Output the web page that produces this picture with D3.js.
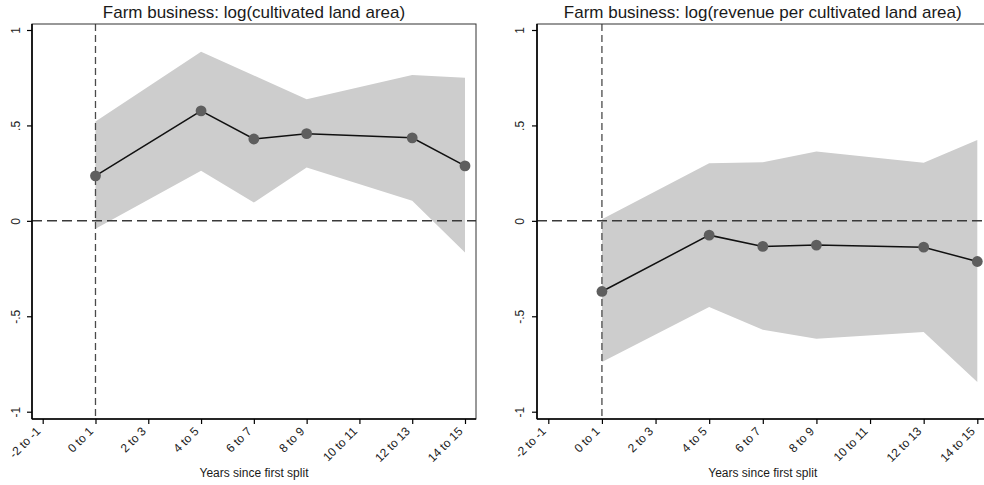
<!DOCTYPE html>
<html>
<head>
<meta charset="utf-8">
<script src="https://cdn.jsdelivr.net/npm/d3@7"></script>
<style>
  html, body { margin: 0; padding: 0; background: #fff; }
  svg { display: block; font-family: "Liberation Sans", Arial, sans-serif; }
</style>
</head>
<body>
<svg id="chart" width="984" height="485"></svg>
<script>
// Event-time bins shown on the horizontal axis
const categories = ["-2 to -1", "0 to 1", "2 to 3", "4 to 5", "6 to 7", "8 to 9", "10 to 11", "12 to 13", "14 to 15"];
const yTicks = [-1, -0.5, 0, 0.5, 1];
const yTickLabels = ["-1", "-.5", "0", ".5", "1"];

// Estimated bins (some bins have no estimate)
const estCats = ["0 to 1", "4 to 5", "6 to 7", "8 to 9", "12 to 13", "14 to 15"];

// log(cultivated land area)
const landEst = [0.236, 0.576, 0.429, 0.457, 0.435, 0.288];
const landLo  = [-0.042, 0.262, 0.096, 0.279, 0.105, -0.166];
const landHi  = [0.52, 0.886, 0.762, 0.637, 0.764, 0.75];

// log(revenue per cultivated land area)
const revEst = [-0.37, -0.075, -0.134, -0.127, -0.138, -0.213];
const revLo  = [-0.74, -0.452, -0.571, -0.618, -0.583, -0.845];
const revHi  = [0.009, 0.302, 0.307, 0.363, 0.305, 0.424];

const panels = [
  { title: "Farm business: log(cultivated land area)", est: landEst, lo: landLo, hi: landHi,
    frame: [32, 476], xr: [42.7, 465], yLabX: 15.5 },
  { title: "Farm business: log(revenue per cultivated land area)", est: revEst, lo: revLo, hi: revHi,
    frame: [537, 988.5], xr: [548.3, 977.3], yLabX: 519.5 }
];

const svg = d3.select("#chart");
const plotTop = 24, plotBottom = 419;
const y = d3.scaleLinear().domain([-1, 1]).range([411.7, 30]);

panels.forEach(p => {
  const g = svg.append("g");
  const x = d3.scalePoint().domain(categories).range(p.xr);
  const rows = estCats.map((c, i) => ({ c, est: p.est[i], lo: p.lo[i], hi: p.hi[i] }));

  const clipId = "clip" + p.frame[0];
  svg.append("clipPath").attr("id", clipId)
    .append("rect").attr("x", p.frame[0]).attr("y", plotTop)
    .attr("width", p.frame[1] - p.frame[0]).attr("height", plotBottom - plotTop);

  const plot = g.append("g").attr("clip-path", `url(#${clipId})`);

  // confidence band
  plot.append("path")
    .datum(rows)
    .attr("fill", "#cdcdcd")
    .attr("d", d3.area().x(d => x(d.c)).y0(d => y(d.lo)).y1(d => y(d.hi)));

  // reference lines
  plot.append("line")
    .attr("x1", p.frame[0]).attr("x2", p.frame[1])
    .attr("y1", y(0)).attr("y2", y(0))
    .attr("stroke", "#3a3a3a").attr("stroke-width", 1.5)
    .attr("stroke-dasharray", "10,5");
  plot.append("line")
    .attr("x1", x("0 to 1")).attr("x2", x("0 to 1"))
    .attr("y1", plotTop).attr("y2", plotBottom)
    .attr("stroke", "#4a4a4a").attr("stroke-width", 1.3)
    .attr("stroke-dasharray", "7,4");

  // estimates
  plot.append("path")
    .datum(rows)
    .attr("fill", "none").attr("stroke", "#111").attr("stroke-width", 1.5)
    .attr("d", d3.line().x(d => x(d.c)).y(d => y(d.est)));
  plot.selectAll("circle").data(rows).join("circle")
    .attr("cx", d => x(d.c)).attr("cy", d => y(d.est))
    .attr("r", 5.4).attr("fill", "#5e5e5e");

  // frame
  g.append("rect")
    .attr("x", p.frame[0]).attr("y", plotTop)
    .attr("width", p.frame[1] - p.frame[0]).attr("height", plotBottom - plotTop)
    .attr("fill", "none").attr("stroke", "#333").attr("stroke-width", 1);

  // y axis
  const yAxis = g.append("g").attr("transform", `translate(${p.frame[0]},0)`)
    .call(d3.axisLeft(y).tickValues(yTicks).tickSize(5).tickFormat((d, i) => yTickLabels[i]));
  yAxis.select(".domain").attr("d", `M0,${plotTop}V${plotBottom}`).attr("stroke", "#000").attr("stroke-width", 1.6);
  yAxis.selectAll(".tick line").attr("stroke", "#000").attr("stroke-width", 1.2);
  yAxis.selectAll(".tick text")
    .attr("x", null).attr("dy", null)
    .attr("transform", "translate(" + (p.yLabX - p.frame[0]) + ",0) rotate(-90)")
    .attr("text-anchor", "middle")
    .attr("dy", "0.35em")
    .attr("font-size", 12).attr("fill", "#222")
    .attr("font-family", "Liberation Sans, Arial, sans-serif");

  // x axis
  const xAxis = g.append("g").attr("transform", `translate(0,${plotBottom})`)
    .call(d3.axisBottom(x).tickSize(5));
  xAxis.select(".domain").attr("d", `M${p.frame[0]},0H${p.frame[1]}`).attr("stroke", "#000").attr("stroke-width", 1.6);
  xAxis.selectAll(".tick line").attr("stroke", "#000").attr("stroke-width", 1.2);
  xAxis.selectAll(".tick text")
    .attr("y", null).attr("dy", null)
    .attr("transform", "translate(-2,13) rotate(-45)")
    .attr("text-anchor", "end")
    .attr("font-size", 12).attr("fill", "#222")
    .attr("font-family", "Liberation Sans, Arial, sans-serif");

  // titles
  g.append("text")
    .attr("x", (p.frame[0] + p.frame[1]) / 2).attr("y", 18)
    .attr("text-anchor", "middle")
    .attr("font-size", 17).attr("fill", "#1a1a1a")
    .text(p.title);
  g.append("text")
    .attr("x", (p.frame[0] + p.frame[1]) / 2).attr("y", 477)
    .attr("text-anchor", "middle")
    .attr("font-size", 12).attr("fill", "#1a1a1a")
    .text("Years since first split");
});
</script>
</body>
</html>
